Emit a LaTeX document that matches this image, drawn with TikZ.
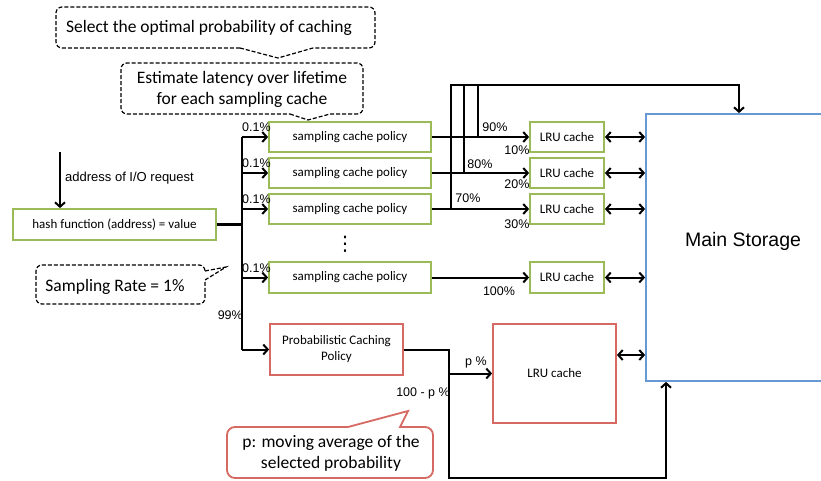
\documentclass[tikz,border=0pt]{standalone}
\usepackage{fontspec}
\setmainfont{Carlito}
\newfontfamily\arialf{Liberation Sans}
\newfontfamily\dejavuf{DejaVu Sans}
\usetikzlibrary{arrows.meta}
\definecolor{boxgreen}{RGB}{155,187,89}
\definecolor{boxred}{RGB}{214,106,98}
\definecolor{boxblue}{RGB}{103,153,213}
\begin{document}
\begin{tikzpicture}[x=1pt,y=-1pt,
  gbox/.style={draw=boxgreen, line width=1.8pt, inner sep=0pt, font=\fontsize{13}{15}\selectfont},
  rbox/.style={draw=boxred, line width=1.8pt, inner sep=0pt, align=center, font=\fontsize{13}{16}\selectfont},
  pct/.style={font=\arialf\fontsize{12.5}{14}\selectfont, inner sep=0pt},
  conn/.style={line width=2pt},
  tconn/.style={line width=2.5pt},
  arr/.style={line width=2pt, -{Straight Barb[length=4.5pt,width=10pt]}},
  biarr/.style={line width=2pt, {Straight Barb[length=4.5pt,width=10pt]}-{Straight Barb[length=4.5pt,width=10pt]}},
  callout/.style={dash pattern=on 4pt off 2pt, line width=1.2pt},
  ctext/.style={font=\fontsize{17.5}{21}\selectfont, align=center, inner sep=0pt}
]
\clip (0,0) rectangle (821,480);
\fill[white] (0,0) rectangle (821,480);

% callouts
\draw[callout] (240,48) -- (278,58) -- (313,48) [rounded corners=6pt] -- (375,48) -- (375,7) -- (56,7) -- (56,48) -- (240,48);
\node[ctext] (c1t) at (209,28) {Select the optimal probability of caching};
\draw[callout] (290,114) -- (308,120) -- (330,114) [rounded corners=6pt] -- (363,114) -- (363,63) -- (121,63) -- (121,114) -- (290,114);
\node[ctext] (c2t) at (242,89) {Estimate latency over lifetime\\for each sampling cache};
\draw[callout] (205,271) -- (226,267) -- (205,280) [rounded corners=6pt] -- (205,304) -- (36,304) -- (36,265) -- (205,265) -- (205,271);
\node[ctext] (c3t) at (115,287) {Sampling Rate = 1\%};
\draw[draw=boxred, line width=1.8pt] (348,427) -- (408,411) -- (400,427) [rounded corners=8pt] -- (433,427) -- (433,478) -- (227,478) -- (227,427) -- (348,427);
\node[ctext] (c4t) at (331,453) {p: moving average of the\\selected probability};

% boxes
\node[gbox, minimum width=203pt, minimum height=31pt] (hash) at (114.5,224.5) {hash function (address) = value};
\node[gbox, minimum width=162pt, minimum height=30pt] (pol1) at (350,137) {sampling cache policy};
\node[gbox, minimum width=162pt, minimum height=30pt] (pol2) at (350,173) {sampling cache policy};
\node[gbox, minimum width=162pt, minimum height=30pt] (pol3) at (350,209) {sampling cache policy};
\node[gbox, minimum width=162pt, minimum height=31pt] (pol4) at (350,277.5) {sampling cache policy};
\node[gbox, minimum width=74pt, minimum height=30pt] (lru1) at (567,137) {LRU cache};
\node[gbox, minimum width=74pt, minimum height=30pt] (lru2) at (567,173) {LRU cache};
\node[gbox, minimum width=74pt, minimum height=30pt] (lru3) at (567,209) {LRU cache};
\node[gbox, minimum width=74pt, minimum height=31pt] (lru4) at (567,277.5) {LRU cache};
\node[rbox, minimum width=133pt, minimum height=51pt] (prob) at (336.5,349.5) {Probabilistic Caching\\Policy};
\node[rbox, minimum width=123pt, minimum height=99pt] (plru) at (554.5,373.5) {LRU cache};
\node[draw=boxblue, line width=1.8pt, minimum width=194pt, minimum height=267pt, inner sep=0pt] (main) at (743,247.5) {};
\node[font=\arialf\fontsize{19.5}{22}\selectfont, inner sep=0pt] (mainlbl) at (743,241) {Main Storage};
\node[inner sep=0pt] (dots) at (345,244) {\dejavuf\fontsize{20}{20}\selectfont ⋮};

% input
\coordinate (addr) at (60,152);
\draw[arr] (addr) -- (addr |- hash.north);
\node[font=\arialf\fontsize{13}{15}\selectfont, anchor=west, inner sep=0pt] (addrlbl) at (65,178) {address of I/O request};

% trunk
\coordinate (trunk) at (242,0);
\draw[line width=3.8pt] (hash.east) -- (trunk |- hash);
\draw[tconn] (trunk |- pol1) -- (trunk |- prob);
\foreach \b in {pol1,pol2,pol3,pol4,prob} {
  \draw[arr] (trunk |- \b) -- (\b.west);
}
\foreach \b/\n in {pol1/a,pol2/b,pol3/c,pol4/d} {
  \node[pct, anchor=south west] (pct\n) at ([yshift=5pt]trunk |- \b) {0.1\%};
}
\node[pct, anchor=east] (p99) at (243,315) {99\%};

% sampling outputs
\coordinate (v1) at (478,0);
\coordinate (v2) at (464,0);
\coordinate (v3) at (451,0);
\coordinate (top) at (0,85);
\coordinate (mtop) at (739,0);
\draw[tconn] (pol1.east) -- (v1 |- pol1);
\draw[tconn] (pol2.east) -- (v2 |- pol2);
\draw[tconn] (pol3.east) -- (v3 |- pol3);
\draw[arr] (v1 |- pol1) -- (lru1.west);
\draw[arr] (v2 |- pol2) -- (lru2.west);
\draw[arr] (v3 |- pol3) -- (lru3.west);
\draw[conn] (v1 |- pol1) -- (v1 |- top);
\draw[conn] (v2 |- pol2) -- (v2 |- top);
\draw[conn] (v3 |- pol3) -- (v3 |- top);
\draw[arr, line cap=rect] (v3 |- top) -- (mtop |- top) -- (mtop |- main.north);
\draw[arr] (pol4.east) -- (lru4.west);

\node[pct] (l90) at (495,127) {90\%};
\node[pct] (l10) at (517,150) {10\%};
\node[pct] (l80) at (480,164) {80\%};
\node[pct] (l20) at (517,184) {20\%};
\node[pct] (l70) at (468,198) {70\%};
\node[pct] (l30) at (517,224) {30\%};
\node[pct] (l100) at (499,291) {100\%};

% bidirectional
\foreach \b in {lru1,lru2,lru3,lru4} {
  \draw[biarr] (\b.east) -- (\b.east -| main.west);
}
\coordinate (pb) at (0,355);
\draw[biarr] (plru.east |- pb) -- (main.west |- pb);

% probabilistic
\coordinate (pv) at (449,0);
\coordinate (bot) at (0,478);
\coordinate (mb) at (666,0);
\draw[arr] (prob.east) -- (pv |- prob) -- (pv |- bot) -- (mb |- bot) -- (mb |- main.south);
\draw[arr] (pv |- plru) -- (plru.west);
\node[pct] (lp) at (476,362) {p \%};
\node[pct] (l100p) at (423,393) {100 - p \%};
\end{tikzpicture}
\end{document}
